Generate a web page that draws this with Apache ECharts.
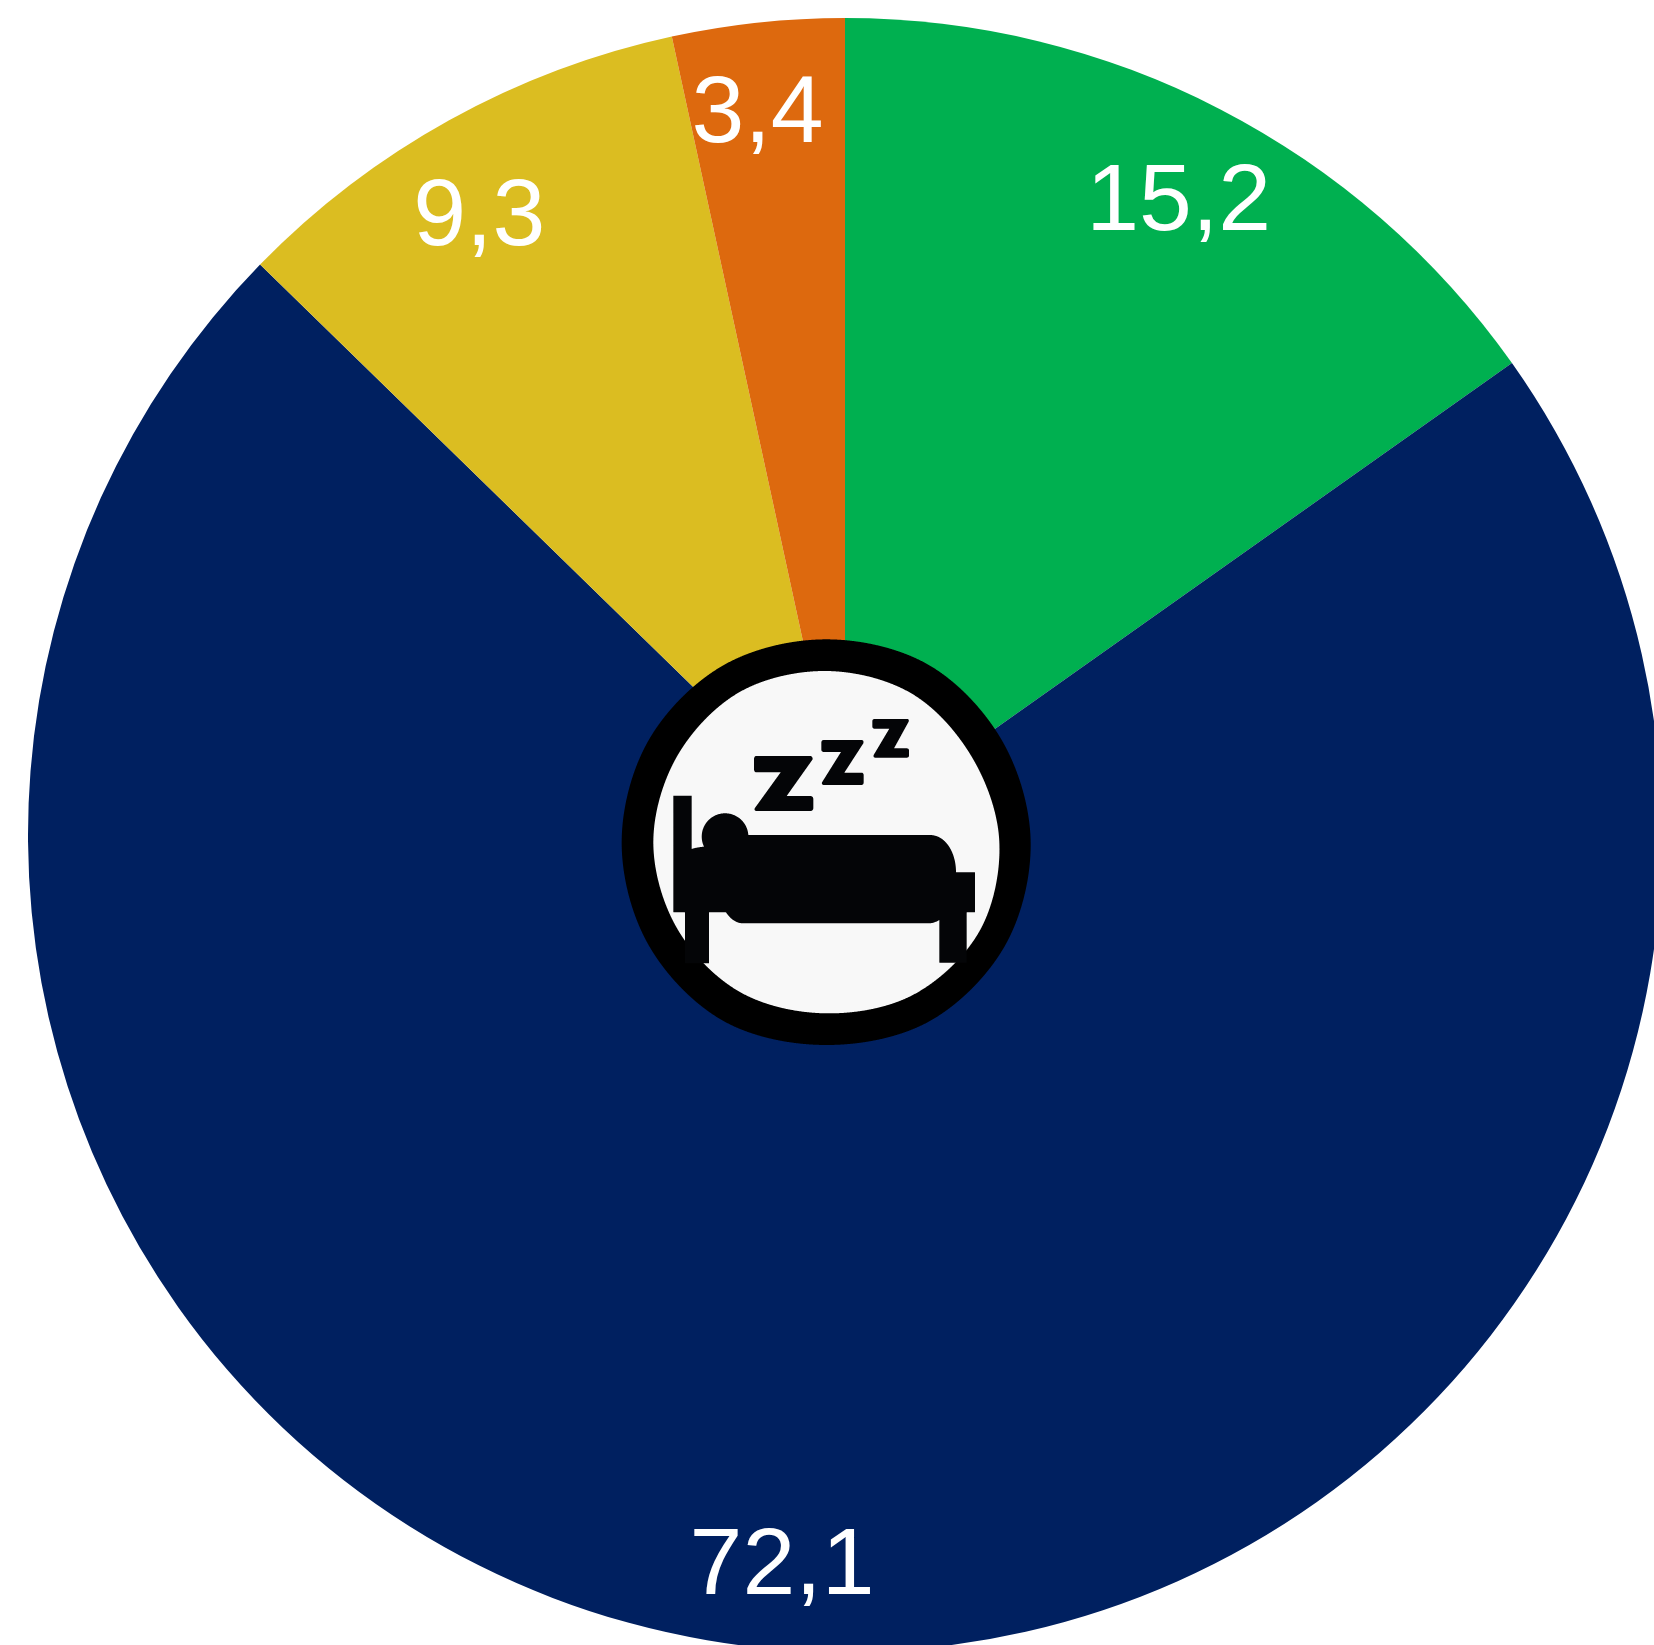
<!DOCTYPE html>
<html>
<head>
<meta charset="utf-8">
<style>html,body{margin:0;padding:0;background:#fff}#c{width:1654px;height:1645px}</style>
<script src="https://cdn.jsdelivr.net/npm/echarts@6/dist/echarts.min.js"></script>
</head>
<body>
<div id="c"></div>
<script>
const categories = ['A', 'B', 'C', 'D'];
const values = [15.2, 72.1, 9.3, 3.4];
const colors = ['#00B050', '#002060', '#DBBD21', '#DD690E'];
const labelNudgeX = [0, -6, -14, -10];
const labelNudgeY = [14, 9, 19, 3];

const ringOuterRadii = [609, 615, 610, 614, 620, 620, 608, 618, 615, 613, 614, 614];
const ringInnerRadii = [514, 515, 507, 520, 532, 527, 513, 518, 516, 518, 516, 520];
const bedPath = 'M280 587L335 587L335 747Q350 742 372 740A70 70 0 1 1 505 705L1050 705C1095 705 1128 755 1128 817L1185 817L1185 937L1160 937L1160 1088L1078 1088L1078 960Q1062 970 1045 970L490 970Q460 970 438 937L387 937L387 1090L315 1090L315 937L280 937Z';
const zBig = 'M530 468L690 468Q698 468 698 478L620 588L690 588Q700 588 700 598L700 623Q700 633 690 633L530 633Q522 633 524 625L602 517L530 517Q522 517 522 507L522 478Q522 468 530 468Z';
const zMid = 'M732 420L845 420Q852 420 850 430L793 518L843 518Q851 518 851 526L851 547Q851 555 843 555L732 555Q724 555 726 547L783 456L732 456Q724 456 724 448L724 428Q724 420 732 420Z';
const zSmall = 'M884 357L982 357Q988 357 986 365L942 445L980 445Q987 445 987 452L987 466Q987 473 980 473L886 473Q879 473 881 465L928 386L884 386Q877 386 877 379L877 364Q877 357 884 357Z';

function ringPoints(radii) {
  return radii.map((r, i) => {
    const a = i * 2 * Math.PI / radii.length;
    return [738 + r * Math.sin(a), 727 - r * Math.cos(a)];
  });
}
function closedCurve(pts) {
  const n = pts.length;
  let d = 'M' + pts[0][0] + ' ' + pts[0][1];
  for (let i = 0; i < n; i++) {
    const p0 = pts[(i - 1 + n) % n], p1 = pts[i], p2 = pts[(i + 1) % n], p3 = pts[(i + 2) % n];
    d += 'C' + (p1[0] + (p2[0] - p0[0]) / 6) + ' ' + (p1[1] + (p2[1] - p0[1]) / 6) + ' ' +
      (p2[0] - (p3[0] - p1[0]) / 6) + ' ' + (p2[1] - (p3[1] - p1[1]) / 6) + ' ' + p2[0] + ' ' + p2[1];
  }
  return d + 'Z';
}
function outline(d) {
  const el = document.createElementNS('http://www.w3.org/2000/svg', 'path');
  el.setAttribute('d', d);
  const len = el.getTotalLength(), out = [];
  for (let s = 0; s < len; s += 1.5) {
    const p = el.getPointAtLength(s);
    out.push([p.x, p.y]);
  }
  return out;
}
const iconShape = (d, fill, z) => ({ type: 'polygon', z, shape: { points: outline(d) }, style: { fill } });

const pieData = categories.map((name, i) => ({ name, value: values[i], itemStyle: { color: colors[i] } }));
const pieCommon = { type: 'pie', center: [845, 835], startAngle: 90, clockwise: true, silent: true, animation: false, labelLine: { show: false } };

const chart = echarts.init(document.getElementById('c'), null, { renderer: 'canvas' });
chart.setOption({
  animation: false,
  backgroundColor: '#ffffff',
  series: [
    Object.assign({}, pieCommon, { radius: [0, 817], data: pieData, label: { show: false } }),
    Object.assign({}, pieCommon, {
      radius: [629, 817],
      data: categories.map((name, i) => ({ name, value: values[i], itemStyle: { color: 'transparent' } })),
      label: {
        show: true, position: 'inside', color: '#fff', fontSize: 95,
        fontFamily: '"Liberation Sans", Arial, sans-serif',
        formatter: p => String(p.value).replace('.', ',')
      },
      labelLayout: p => ({ dx: labelNudgeX[p.dataIndex], dy: labelNudgeY[p.dataIndex] })
    })
  ],
  graphic: [{
    type: 'group', x: 580, y: 600, scaleX: 1 / 3, scaleY: 1 / 3, silent: true,
    children: [
      iconShape(closedCurve(ringPoints(ringOuterRadii)), '#000', 100),
      iconShape(closedCurve(ringPoints(ringInnerRadii)), '#F8F8F8', 101),
      iconShape(bedPath, '#040507', 102),
      iconShape(zBig, '#040507', 102),
      iconShape(zMid, '#040507', 102),
      iconShape(zSmall, '#040507', 102)
    ]
  }]
});
</script>
</body>
</html>
